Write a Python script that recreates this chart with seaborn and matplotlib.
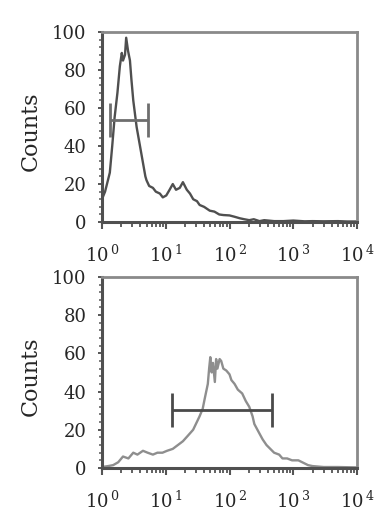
import numpy as np
import pandas as pd
import matplotlib
matplotlib.use("Agg")
import matplotlib.pyplot as plt
import seaborn as sns
from matplotlib.ticker import LogLocator, FixedLocator, MultipleLocator

# ---- data ----
top_x = [1.0, 1.12, 1.2, 1.33, 1.45, 1.58, 1.75, 1.91, 2.05, 2.14, 2.3, 2.4, 2.57, 2.75, 2.9,
         3.1, 3.5, 4.2, 4.8, 5.0, 5.5, 6.3, 7.0, 8.1, 9.0, 10.2, 11.5, 12.9, 14.5, 16.6,
         18.6, 21.4, 24.0, 27.0, 30.9, 34.0, 40.0, 49.0, 58.0, 69.0, 80.0, 100.0, 120.0,
         145.0, 170.0, 204.0, 240.0, 295.0, 350.0, 500.0, 700.0, 1000.0, 1500.0, 2000.0,
         3000.0, 5000.0, 7000.0, 10000.0]
top_y = [12, 16, 20, 26, 40, 55, 68, 82, 89, 85, 88, 97, 90, 85, 75,
         64, 50, 35, 24, 22, 19, 18, 16, 15, 13, 14, 17, 20, 17, 18,
         21, 17, 15, 12, 11, 9, 8, 6, 5.5, 4, 3.7, 3.5, 2.8, 2, 1.5, 1, 1.5, 0.5, 1,
         0.5, 0.5, 0.8, 0.4, 0.5, 0.4, 0.5, 0.3, 0.3]

bot_x = [1.0, 1.25, 1.5, 1.8, 2.14, 2.6, 3.1, 3.6, 4.4, 5.2, 6.3, 7.4, 8.9, 10.5, 12.9,
         15.5, 18.6, 22.4, 26.9, 33.9, 38.0, 40.7, 45.7, 47.9, 50.0, 52.5, 55.0, 58.9,
         61.7, 64.6, 70.0, 74.1, 80.0, 89.0, 100.0, 107.0, 120.0, 135.0, 158.0, 180.0,
         204.0, 230.0, 245.0, 295.0, 330.0, 380.0, 500.0, 600.0, 676.0, 800.0, 955.0,
         1200.0, 1380.0, 1700.0, 2000.0, 3000.0, 5000.0, 10000.0]
bot_y = [0.5, 1, 1.5, 3, 6, 5, 8, 7, 9, 8, 7, 8, 8, 9, 10,
         12, 14, 17, 20, 27, 31, 36, 44, 52, 58, 50, 55, 45, 57, 52, 57, 56, 52, 51, 49,
         46, 44, 41, 39, 35, 32, 27, 23, 18, 15, 12, 8, 7, 5, 5, 4, 4, 3, 1.5, 1, 0.5,
         0.5, 0.3]

top_gate_x = [1.33, 5.2]
top_gate_y = 53.7
top_gate_half = 9.0
bot_gate_x = [12.5, 468.0]
bot_gate_y = 30.4
bot_gate_half = 9.0

y_ticks = [0, 20, 40, 60, 80, 100]
x_ticks = [1, 10, 100, 1000, 10000]
x_tick_labels = [r"$10^{\,0}$", r"$10^{\,1}$", r"$10^{\,2}$", r"$10^{\,3}$", r"$10^{\,4}$"]
y_label = "Counts"

# ---- style ----
sns.set_style("white")
plt.rcParams["font.family"] = ["DejaVu Serif"]
plt.rcParams["mathtext.fontset"] = "dejavuserif"

fig = plt.figure(figsize=(3.92, 5.25), dpi=100)
ax_top = fig.add_axes([0.260, 0.577, 0.651, 0.362])
ax_bot = fig.add_axes([0.260, 0.1086, 0.651, 0.364])

panels = [
    (ax_top, top_x, top_y, top_gate_x, top_gate_y, top_gate_half, "#4f4f4f", "#6e6e6e", 0.476),
    (ax_bot, bot_x, bot_y, bot_gate_x, bot_gate_y, bot_gate_half, "#8e8e8e", "#4a4a4a", 0.479),
]

for ax, xs, ys, gx, gy, gh, lc, gc, ylab_y in panels:
    df = pd.DataFrame({"x": xs, "y": ys})
    sns.lineplot(data=df, x="x", y="y", ax=ax, color=lc, linewidth=1.7, estimator=None)
    # gate
    ax.plot(gx, [gy, gy], color=gc, linewidth=2.0, solid_capstyle="butt")
    for g in gx:
        ax.plot([g, g], [gy - gh, gy + gh], color=gc, linewidth=2.0, solid_capstyle="butt")
    ax.set_xscale("log")
    ax.set_xlim(1, 10000)
    ax.set_ylim(0, 100)
    ax.xaxis.set_major_locator(FixedLocator(x_ticks))
    ax.set_xticklabels(x_tick_labels)
    ax.xaxis.set_minor_locator(LogLocator(base=10, subs=np.arange(2, 10) * 1.0, numticks=20))
    ax.xaxis.set_minor_formatter(plt.NullFormatter())
    ax.set_yticks(y_ticks)
    ax.yaxis.set_minor_locator(MultipleLocator(4))
    ax.tick_params(axis="x", which="major", direction="out", length=5, width=1.5,
                   color="#555555", labelsize=13, pad=11, bottom=True)
    ax.tick_params(axis="x", which="minor", direction="out", length=3.5, width=1.3,
                   color="#555555", bottom=True)
    ax.tick_params(axis="y", which="major", direction="out", length=3, width=1.4,
                   color="#555555", labelsize=13, pad=8, left=True)
    ax.tick_params(axis="y", which="minor", direction="out", length=2, width=1.2,
                   color="#666666", left=True)
    for side in ["left", "bottom"]:
        ax.spines[side].set_color("#505050")
        ax.spines[side].set_linewidth(2.2)
    for side in ["top", "right"]:
        ax.spines[side].set_color("#8a8a8a")
        ax.spines[side].set_linewidth(2.0)
    ax.set_xlabel("")
    ax.set_ylabel(y_label, fontsize=16)
    ax.yaxis.set_label_coords(-0.235, ylab_y)

fig.savefig("out.png", dpi=100, facecolor="white")
